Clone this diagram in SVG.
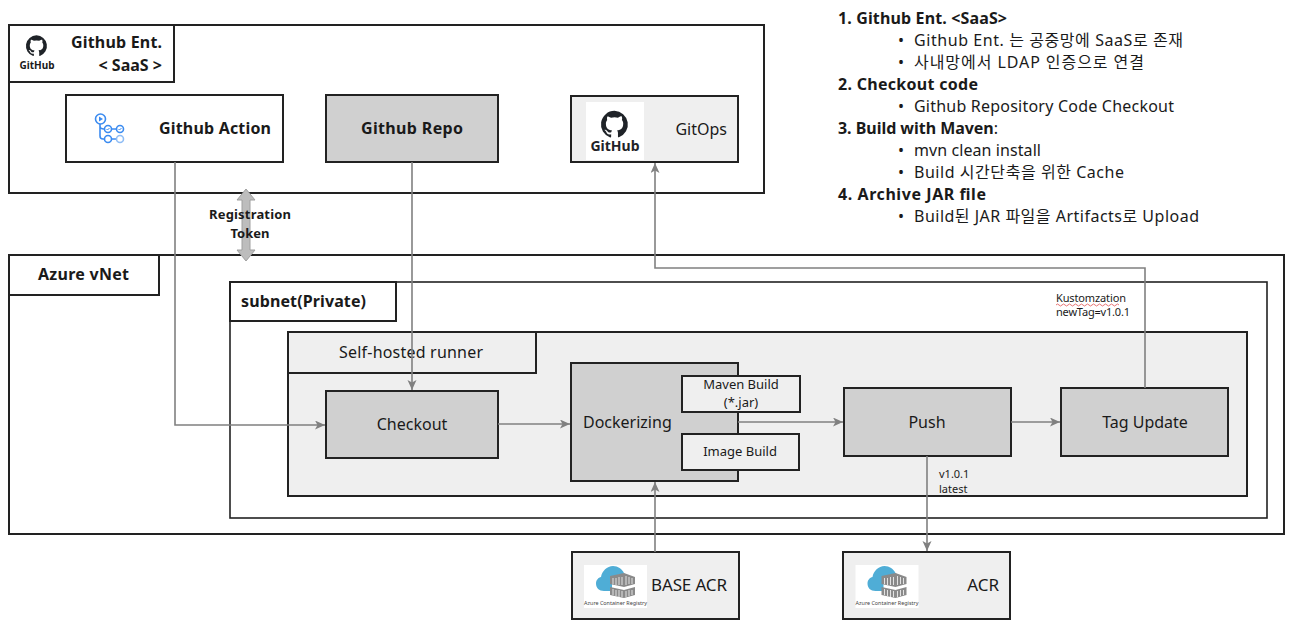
<svg xmlns="http://www.w3.org/2000/svg" width="1293" height="627" viewBox="0 0 1293 627">
<style>
text{font-family:"Noto Sans","Noto Sans CJK KR",sans-serif;fill:#1a1a1a}
.b{fill:#fff;stroke:#222;stroke-width:2}
.e{fill:#efefef;stroke:#222;stroke-width:2}
.d{fill:#d0d0d0;stroke:#222;stroke-width:2}
.c{fill:none;stroke:#808080;stroke-width:1.6;marker-end:url(#a)}
.t16{font-size:16px}.t17{font-size:17px}.t13{font-size:13px}.t11{font-size:11px}
.m{text-anchor:middle}.bd{font-weight:700}.en{text-anchor:end}
.l{font-size:16px}
.ic{fill:#1f2328}
.ib{fill:#fff;stroke:#3b8bf0;stroke-width:1.6}
.acrl{font-size:5.400px;fill:#444;text-anchor:middle}
</style>
<defs>
<marker id="a" markerWidth="12" markerHeight="10" refX="10" refY="4.500" orient="auto" markerUnits="userSpaceOnUse"><path d="M0 0L10 4.500L0 9L2.500 4.500Z" fill="#808080"/></marker>
<g id="gh"><path d="M0-13a13 13 0 0 0-4.100 25.300c.6.100.9-.3.9-.6v-2.300c-3.600.8-4.400-1.700-4.400-1.700-.6-1.500-1.400-1.900-1.400-1.900-1.200-.8.1-.8.1-.8 1.300.1 2 1.300 2 1.300 1.200 2 3 1.400 3.800 1.100.1-.8.5-1.400.8-1.800-2.900-.3-5.900-1.400-5.900-6.400 0-1.400.5-2.600 1.300-3.500-.1-.3-.6-1.700.1-3.400 0 0 1.100-.3 3.600 1.300a12.400 12.400 0 0 1 6.500 0c2.500-1.700 3.600-1.300 3.600-1.300.7 1.800.3 3.100.1 3.400.9.900 1.300 2.100 1.300 3.500 0 5-3 6.100-5.900 6.400.5.400.9 1.200.9 2.400v3.600c0 .3.200.7.900.6A13 13 0 0 0 0-13Z" class="ic"/></g>
<g id="acr"><rect x="0" y="0" width="63" height="43" fill="#fff"/><path d="M20 26c-5 0-8-3-8-7.500 0-3.500 2.500-6 5-6.500C18 6 23 1 29 1c5 0 9 3 11 7l-12 4v14Z" fill="#4fadd6"/><path d="M36 8c5 0 8 2 9 5l-9-3Z" fill="#4fadd6"/><path d="M26 11l14-3 11 4v7l-11 3-14-3ZM26 22l14 3 11-3v8l-11 3-14-3Z" fill="#8a8a8a"/><path d="M29 13v6M32 13v7M35 12v8M38 12v8M42 11v9M45 12v7M48 13v6M29 24v6M32 25v6M35 25v7M38 26v6M42 26v6M45 25v6M48 25v5" stroke="#e2e2e2" stroke-width="1" fill="none"/><text x="31.500" y="40" class="acrl">Azure Container Registry</text></g>
</defs>
<rect width="1293" height="627" fill="#fff"/>

<g id="github-ent">
<rect class="b" x="9" y="25" width="755" height="168"/>
<rect class="b" x="9" y="25" width="165" height="57"/>
<use href="#gh" transform="translate(36.500 46) scale(.82)"/>
<text x="37" y="69" class="bd m" style="font-size:11px" textLength="35" lengthAdjust="spacingAndGlyphs">GitHub</text>
<text x="71" y="48" class="t16 bd" textLength="91">Github Ent.</text>
<text x="162" y="71" class="t16 bd en">&lt; SaaS &gt;</text>
</g>
<g id="github-action">
<rect class="b" x="66" y="95" width="217" height="67"/>
<path d="M100 124v12q0 3 3 3h2M100 126q0 3 4 3h1M111.500 129h5M111.500 139h5" stroke="#3b8bf0" stroke-width="1.600" fill="none"/>
<circle class="ib" cx="100.500" cy="119" r="5"/><path d="M99 116.500l4 2.500-4 2.500Z" fill="#3b8bf0"/>
<circle class="ib" cx="108" cy="129" r="3.500"/><circle class="ib" cx="120" cy="129" r="3.500"/><circle class="ib" cx="108" cy="139" r="3.500"/><circle class="ib" cx="120" cy="139" r="3.500" style="stroke:#8fbdf5"/>
<path d="M106.500 129l1 1 2-2M118.500 129l1 1 2-2" stroke="#3b8bf0" fill="none"/>
<text x="159" y="134" class="t16 bd" textLength="112">Github Action</text>
</g>
<g id="github-repo">
<rect class="d" x="326" y="95" width="172" height="67"/>
<text x="361" y="134" class="t16 bd" textLength="102">Github Repo</text>
</g>
<g id="gitops">
<rect class="e" x="571" y="96" width="167" height="66"/>
<rect x="586" y="102" width="58" height="58" fill="#fff"/>
<use href="#gh" transform="translate(614.500 124.500) scale(1.050)"/>
<text x="615" y="151" class="bd m" style="font-size:14px;fill:#1f2328">GitHub</text>
<text x="727" y="135" class="t16 en">GitOps</text>
</g>

<g id="azure-vnet">
<rect class="b" x="9" y="255" width="1275" height="279"/>
<rect class="b" x="9" y="255" width="150" height="40"/>
<text x="38" y="280" class="t16 bd" textLength="91">Azure vNet</text>
</g>
<g id="subnet">
<rect class="b" x="230" y="282" width="1037" height="236" style="stroke-width:1.600"/>
<rect class="b" x="230" y="282" width="166" height="39"/>
<text x="241" y="307" class="t16 bd" textLength="125">subnet(Private)</text>
</g>
<g id="runner">
<rect class="e" x="288" y="332" width="959" height="164"/>
<rect class="e" x="288" y="332" width="248" height="41"/>
<text x="339" y="358" class="t16" textLength="144">Self-hosted runner</text>
</g>
<g id="checkout">
<rect class="d" x="326" y="391" width="172" height="67"/>
<text x="412" y="430" class="t16 m">Checkout</text>
</g>
<g id="dockerizing">
<rect class="d" x="571" y="363" width="167" height="118"/>
<text x="583" y="428" class="t16">Dockerizing</text>
</g>
<g id="maven-build">
<rect class="e" x="682" y="376" width="118" height="36"/>
<text x="741" y="389" class="t13 m">Maven Build</text>
<text x="741" y="407" class="t13 m">(*.jar)</text>
</g>
<g id="image-build">
<rect class="e" x="682" y="434" width="117" height="36"/>
<text x="740" y="456" class="t13 m">Image Build</text>
</g>
<g id="push">
<rect class="d" x="844" y="388" width="167" height="68"/>
<text x="927" y="428" class="t16 m">Push</text>
</g>
<g id="tag-update">
<rect class="d" x="1061" y="388" width="167" height="68"/>
<text x="1145" y="428" class="t16 m">Tag Update</text>
</g>
<g id="base-acr">
<rect class="e" x="572" y="552" width="167" height="67"/>
<use href="#acr" x="584" y="565"/>
<text x="651" y="591" class="t17" textLength="76">BASE ACR</text>
</g>
<g id="acr-node">
<rect class="e" x="843" y="552" width="167" height="67"/>
<use href="#acr" x="855.500" y="565"/>
<text x="999" y="591" class="t17 en">ACR</text>
</g>

<g id="connectors">
<path class="c" d="M175 162V425H325"/>
<path class="c" d="M412 162V390"/>
<path class="c" d="M498 424H570"/>
<path class="c" d="M738 422H843"/>
<path class="c" d="M1011 422H1060"/>
<path class="c" d="M1145 388V268H655V163"/>
<path class="c" d="M655 552V482"/>
<path class="c" d="M927 456V551"/>
<path d="M246 189l9 11h-5v50h5l-9 11-9-11h5v-50h-5Z" fill="#bdbdbd" stroke="#a0a0a0"/>
</g>
<g id="labels">
<text x="209" y="219" class="t13 bd" textLength="82">Registration</text>
<text x="250" y="238" class="t13 bd m">Token</text>
<text x="1056" y="302" class="t11" textLength="70">Kustomzation</text>
<path d="M1056 305q1.500-2 3 0t3 0 3 0 3 0 3 0 3 0 3 0 3 0 3 0 3 0 3 0 3 0 3 0 3 0 3 0 3 0 3 0 3 0 3 0 3 0 3 0" fill="none" stroke="#e05050" stroke-width=".8"/>
<text x="1056" y="316" class="t11" textLength="74">newTag=v1.0.1</text>
<text x="939" y="478" class="t11">v1.0.1</text>
<text x="939" y="493" class="t11">latest</text>
</g>
<g id="notes">
<text x="838" y="24" class="l bd" textLength="169">1. Github Ent. &lt;SaaS&gt;</text>
<text x="898" y="46" class="l">•</text><text x="914" y="46" class="l" textLength="269">Github Ent. 는 공중망에 SaaS로 존재</text>
<text x="898" y="68" class="l">•</text><text x="914" y="68" class="l" textLength="230">사내망에서 LDAP 인증으로 연결</text>
<text x="838" y="90" class="l bd" textLength="140">2. Checkout code</text>
<text x="898" y="112" class="l">•</text><text x="914" y="112" class="l" textLength="260">Github Repository Code Checkout</text>
<text x="838" y="134" class="l" textLength="160"><tspan class="bd">3. Build with Maven</tspan>:</text>
<text x="898" y="156" class="l">•</text><text x="914" y="156" class="l" textLength="127">mvn clean install</text>
<text x="898" y="178" class="l">•</text><text x="914" y="178" class="l" textLength="210">Build 시간단축을 위한 Cache</text>
<text x="838" y="200" class="l bd" textLength="148">4. Archive JAR file</text>
<text x="898" y="222" class="l">•</text><text x="914" y="222" class="l" textLength="285">Build된 JAR 파일을 Artifacts로 Upload</text>
</g>
</svg>
